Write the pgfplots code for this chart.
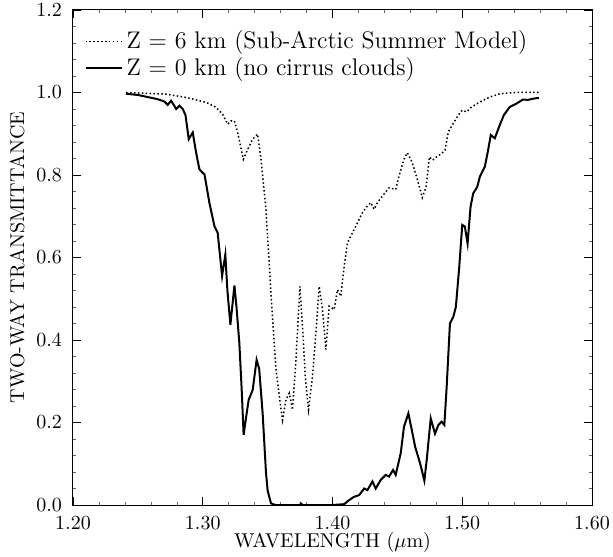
\documentclass[border=0pt]{standalone}
\usepackage{pgfplots}
\pgfplotsset{compat=1.18}
\begin{document}
\begin{tikzpicture}
\useasboundingbox (-36.5pt,-25.5pt) rectangle (270pt,252.5pt);
\begin{axis}[
  at={(0,0)}, anchor=origin,
  width=259.5pt, height=247.5pt, scale only axis,
  xmin=1.2, xmax=1.6, ymin=0, ymax=1.2,
  xtick={1.2,1.3,1.4,1.5,1.6},
  ytick={0,0.2,0.4,0.6,0.8,1.0,1.2},
  minor x tick num=4, minor y tick num=4,
  tick align=inside,
  major tick length=4pt, minor tick length=1.5pt,
  every tick/.style={black, line width=0.4pt},
  every minor tick/.style={black!60, line width=0.3pt},
  x tick label style={yshift=-2.5pt, /pgf/number format/fixed, /pgf/number format/fixed zerofill, /pgf/number format/precision=2},
  y tick label style={xshift=-2pt, /pgf/number format/fixed, /pgf/number format/fixed zerofill, /pgf/number format/precision=1},
  scaled ticks=false,
  axis line style={line width=0.5pt},
  xlabel={WAVELENGTH ($\mu$m)},
  ylabel={TWO-WAY TRANSMITTANCE},
  xlabel style={yshift=5.5pt},
  ylabel style={yshift=-1pt},
  legend cell align=left,
  legend style={draw=none, fill=none, at={(0.01,0.975)}, anchor=north west, font=\large, row sep=-1pt,
     /tikz/every even column/.append style={column sep=4pt}},
  legend image code/.code={\draw[#1] (0pt,0pt) -- (18pt,0pt);},
]
\addplot[black, line width=0.75pt, dash pattern=on 0.75pt off 1.2pt] coordinates {
(1.2410,1.000) (1.2718,0.996) (1.2872,0.988) (1.3026,0.976) (1.3103,0.964)
(1.3154,0.947) (1.3192,0.923) (1.3218,0.931) (1.3244,0.931) (1.3269,0.903)
(1.3313,0.838) (1.3346,0.862) (1.3385,0.887) (1.3423,0.899) (1.3449,0.838)
(1.3487,0.717) (1.3526,0.514) (1.3564,0.330) (1.3600,0.240) (1.3615,0.206)
(1.3641,0.255) (1.3667,0.271) (1.3692,0.231) (1.3718,0.352) (1.3749,0.530)
(1.3769,0.433) (1.3790,0.312) (1.3815,0.231) (1.3846,0.312) (1.3872,0.417)
(1.3897,0.530) (1.3923,0.474) (1.3949,0.377) (1.3974,0.482) (1.4013,0.474)
(1.4038,0.522) (1.4064,0.506) (1.4090,0.579) (1.4115,0.636) (1.4154,0.660)
(1.4192,0.684) (1.4231,0.709) (1.4269,0.725) (1.4295,0.733) (1.4321,0.717)
(1.4346,0.733) (1.4385,0.749) (1.4436,0.769) (1.4487,0.765) (1.4513,0.798)
(1.4551,0.838) (1.4577,0.854) (1.4615,0.830) (1.4654,0.789) (1.4692,0.745)
(1.4721,0.771) (1.4747,0.844) (1.4772,0.836) (1.4803,0.844) (1.4841,0.852)
(1.4867,0.860) (1.4893,0.905) (1.4931,0.925) (1.4969,0.945) (1.5000,0.957)
(1.5033,0.953) (1.5072,0.965) (1.5136,0.977) (1.5212,0.989) (1.5289,0.997)
(1.5417,1.000) (1.5591,1.000)
};
\addlegendentry{Z = 6 km (Sub-Arctic Summer Model)}
\addplot[black, line width=1pt] coordinates {
(1.2410,0.997) (1.2500,0.994) (1.2590,0.988) (1.2650,0.984) (1.2705,0.978)
(1.2730,0.970) (1.2756,0.980) (1.2780,0.968) (1.2795,0.960) (1.2820,0.968)
(1.2846,0.960) (1.2867,0.945) (1.2892,0.887) (1.2923,0.903) (1.2949,0.854)
(1.2974,0.814) (1.3000,0.805) (1.3013,0.802) (1.3051,0.733) (1.3090,0.676)
(1.3115,0.660) (1.3149,0.555) (1.3174,0.607) (1.3190,0.520) (1.3213,0.437)
(1.3244,0.532) (1.3260,0.480) (1.3282,0.393) (1.3300,0.280) (1.3315,0.170)
(1.3335,0.215) (1.3354,0.255) (1.3385,0.279) (1.3415,0.352) (1.3435,0.330)
(1.3462,0.220) (1.3487,0.080) (1.3500,0.035) (1.3526,0.004) (1.3560,0.000)
(1.3750,0.000) (1.3756,0.004) (1.3770,0.000) (1.4000,0.000) (1.4090,0.002)
(1.4128,0.012) (1.4167,0.020) (1.4205,0.024) (1.4244,0.040) (1.4269,0.036)
(1.4308,0.057) (1.4333,0.040) (1.4372,0.061) (1.4410,0.073) (1.4436,0.069)
(1.4467,0.085) (1.4487,0.073) (1.4526,0.126) (1.4551,0.190) (1.4585,0.222)
(1.4611,0.182) (1.4637,0.141) (1.4675,0.101) (1.4708,0.059) (1.4726,0.109)
(1.4757,0.210) (1.4790,0.173) (1.4816,0.194) (1.4841,0.202) (1.4862,0.194)
(1.4880,0.287) (1.4905,0.440) (1.4931,0.456) (1.4951,0.481) (1.4977,0.578)
(1.5000,0.679) (1.5020,0.675) (1.5041,0.634) (1.5064,0.723) (1.5084,0.755)
(1.5115,0.771) (1.5136,0.796) (1.5174,0.820) (1.5199,0.860) (1.5220,0.897)
(1.5251,0.889) (1.5284,0.917) (1.5320,0.945) (1.5366,0.965) (1.5417,0.973)
(1.5468,0.983) (1.5506,0.982) (1.5545,0.985) (1.5591,0.987)
};
\addlegendentry{Z = 0 km (no cirrus clouds)}
\end{axis}
\end{tikzpicture}
\end{document}
